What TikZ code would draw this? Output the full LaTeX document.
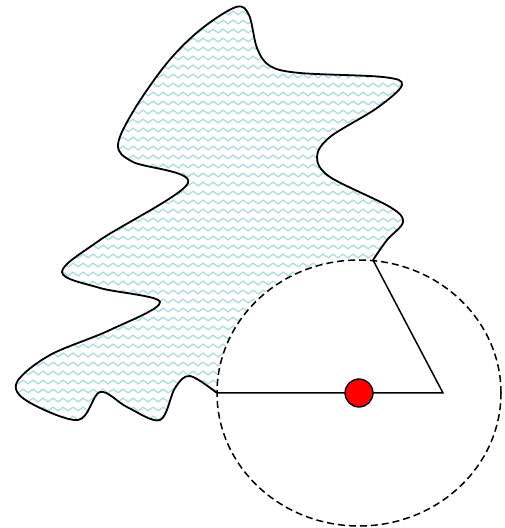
\documentclass[tikz,border=0pt]{standalone}
\usetikzlibrary{decorations.pathmorphing}
\definecolor{wavecyan}{RGB}{172,220,226}
\tikzset{
  outline/.style={line width=1.8pt, line join=round},
  wave/.style={draw=wavecyan, line width=1.3pt,
    decorate, decoration={snake, segment length=10pt, amplitude=1.8pt}},
  reach/.style={dash pattern=on 7pt off 4pt, line width=1.5pt},
  arm/.style={line width=1.5pt},
  pivot/.style={circle, draw, line width=1.3pt, fill=red,
    minimum size=28pt, inner sep=0pt}
}
% contour of the region (without the closing arc)
\def\blobedge{plot[smooth, tension=0.55] coordinates {
  (217,135) (190,152) (175,140) (160,108) (127,121) (100,136)
  (78,108) (27,127) (17,146) (50,173) (110,198) (160,226)
  (100,240) (62,256) (100,288) (188,345) (133,366) (118,383)
  (134,418) (167,465) (200,498) (236,521) (249,513) (257,480)
  (270,462) (300,455) (383,451) (402,443) (377,420)
  (330,391) (317,371) (330,351) (390,321) (403,306) (387,288) (373,268)}}
\def\blobarc{arc[start angle=84.34, end angle=180, x radius=142, y radius=133]}
\begin{document}
\begin{tikzpicture}[x=1pt, y=1pt]
    \useasboundingbox (0,0) rectangle (504,528);

    % Punkte
    \coordinate (left) at (217,135);
    \coordinate (centre) at (359,135);
    \coordinate (right) at (443,135);
    \coordinate (top) at (373,268);

    % Wellen-Schraffur im Gebiet
    \begin{scope}
        \clip \blobedge \blobarc -- cycle;
        \foreach \y in {2,11,...,530} {
            \draw[wave] (0,\y) -- (510,\y);
        }
    \end{scope}

    % Rand
    \draw[outline] \blobedge;

    % Kreis (gestrichelt)
    \draw[reach] (centre) ellipse[x radius=142, y radius=133];

    % Dreieck und Mittelpunkt
    \draw[arm] (left) -- (right) -- (top);
    \node[pivot] (dot) at (centre) {};
\end{tikzpicture}
\end{document}
